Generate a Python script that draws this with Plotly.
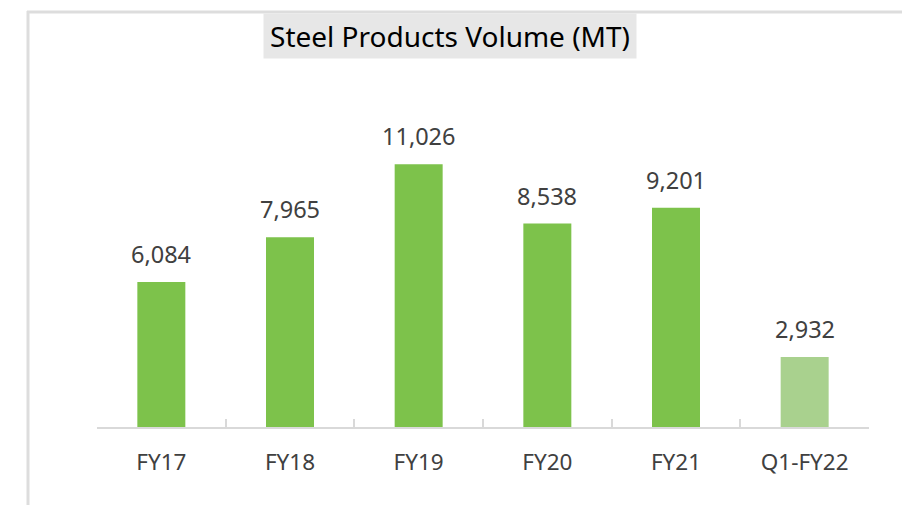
import plotly.graph_objects as go

categories = ["FY17", "FY18", "FY19", "FY20", "FY21", "Q1-FY22"]
volumes = [6084, 7965, 11026, 8538, 9201, 2932]
bar_colors = ["#7DC24B", "#7DC24B", "#7DC24B", "#7DC24B", "#7DC24B", "#A9D18E"]
title_text = "Steel Products Volume (MT)"

FONT = "Noto Sans"
TXT = "#404040"
GRID = "#D9D9D9"

OFF = 8  # browser body margin
W, H = 910 - OFF, 505 - OFF
ML, MR, MT, MB = 97 - OFF, 41, 60 - OFF, 78
plot_h = H - MT - MB
px_per_unit = 145 / 6084
ymax = plot_h / px_per_unit

fig = go.Figure()
fig.add_trace(go.Bar(
    x=categories, y=volumes, marker=dict(color=bar_colors, line=dict(width=0)),
    width=0.373, hoverinfo="skip",
))

for c, v in zip(categories, volumes):
    fig.add_annotation(
        x=c, y=v, text=f"{v:,}", showarrow=False, yanchor="bottom",
        yshift=10, font=dict(family=FONT, size=23.5, color=TXT),
    )

def px_to_paper_x(px):
    return (px - OFF - ML) / (W - ML - MR)

def px_to_paper_y(py):
    return (H - MB - (py - OFF)) / plot_h

# title box
fig.add_annotation(
    x=px_to_paper_x(450), y=px_to_paper_y(35.5), xref="paper", yref="paper",
    text=title_text, showarrow=False, xanchor="center", yanchor="middle",
    font=dict(family=FONT, size=28, color="#000000"),
    bgcolor="#E7E7E7", width=372, height=44, borderpad=0,
)

# frame lines
fig.add_shape(type="line", xref="paper", yref="paper",
              x0=px_to_paper_x(27), x1=px_to_paper_x(915),
              y0=px_to_paper_y(12), y1=px_to_paper_y(12),
              line=dict(color="#DDDDDD", width=3))
fig.add_shape(type="line", xref="paper", yref="paper",
              x0=px_to_paper_x(28), x1=px_to_paper_x(28),
              y0=px_to_paper_y(11), y1=px_to_paper_y(515),
              line=dict(color="#DDDDDD", width=3))

fig.update_layout(
    width=W, height=H,
    margin=dict(l=ML, r=MR, t=MT, b=MB),
    paper_bgcolor="white", plot_bgcolor="white",
    showlegend=False,
    xaxis=dict(
        type="category", showline=True, linecolor=GRID, linewidth=2,
        ticks="inside", tickson="boundaries", ticklen=8, tickcolor=GRID, tickwidth=2,
        tickfont=dict(family=FONT, size=22.5, color=TXT),
        ticklabelstandoff=14, showgrid=False, zeroline=False,
    ),
    yaxis=dict(visible=False, range=[0, ymax], fixedrange=True),
)

fig.write_html("out.html")
